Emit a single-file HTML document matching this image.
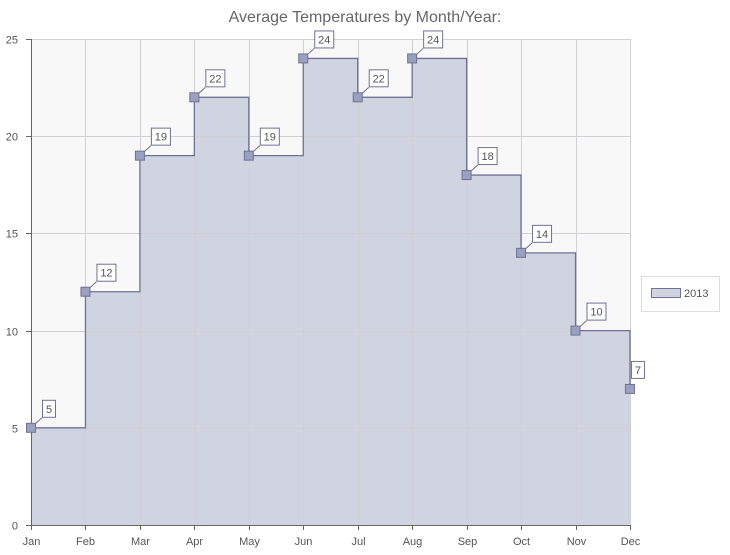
<!DOCTYPE html>
<html><head><meta charset="utf-8"><style>
html,body{margin:0;padding:0;background:#fff;width:730px;height:555px;overflow:hidden}
svg text{font-family:"Liberation Sans",sans-serif}
</style></head><body>
<svg id="s" width="730" height="555" xmlns="http://www.w3.org/2000/svg">
<rect x="31" y="39" width="599" height="486" fill="#f8f8f8"/>
<text x="365" y="22" text-anchor="middle" font-size="16" fill="#666">Average Temperatures by Month/Year:</text>
<rect x="641.5" y="276.5" width="78" height="35" fill="#fff" stroke="#ddd"/>
<rect x="651.5" y="288.5" width="29" height="9" fill="#d0d3e0" stroke="#6e7294"/>
<text x="684" y="297" font-size="11" fill="#555">2013</text>
</svg>
<script>
var s=document.getElementById('s'),ns='http://www.w3.org/2000/svg';
function el(t,a,txt){var e=document.createElementNS(ns,t);for(var k in a)e.setAttribute(k,a[k]);if(txt!=null)e.textContent=txt;s.appendChild(e);return e;}
var v=[5,12,19,22,19,24,22,24,18,14,10,7],m=['Jan','Feb','Mar','Apr','May','Jun','Jul','Aug','Sep','Oct','Nov','Dec'];
function X(i){return 31+54.45*i}function Y(t){return 525-19.44*t}
var d='M31,525',ln='';
for(var i=0;i<11;i++){d+=' L'+X(i)+','+Y(v[i])+' L'+X(i+1)+','+Y(v[i]);ln+=(i?' L':'M')+X(i)+','+Y(v[i])+' L'+X(i+1)+','+Y(v[i]);}
d+=' L630,'+Y(7)+' L630,525 Z';ln+=' L630,'+Y(7);
el('path',{d:d,fill:'#d0d3e0'});
for(var t=0;t<=25;t+=5){var y=Math.round(Y(t))+.5;el('line',{x1:31,x2:630,y1:y,y2:y,stroke:'#d0d0d4','stroke-width':1});el('line',{x1:26,x2:31,y1:y,y2:y,stroke:'#666'});el('text',{x:18,y:y+4,'font-size':11,fill:'#555','text-anchor':'end'},t);}
for(var i=0;i<12;i++){var x=Math.round(X(i))+.5;if(i>0)el('line',{x1:x,x2:x,y1:39,y2:525,stroke:'#d0d0d4'});el('line',{x1:x,x2:x,y1:525,y2:530,stroke:'#666'});el('text',{x:x,y:545,'font-size':11,fill:'#555','text-anchor':'middle'},m[i]);}
el('line',{x1:31.5,x2:31.5,y1:39,y2:525,stroke:'#666'});
el('line',{x1:31,x2:630,y1:525.5,y2:525.5,stroke:'#666'});
el('path',{d:ln,fill:'none',stroke:'#6e7294','stroke-width':1.3});
for(var i=0;i<12;i++){var x=X(i),y=Y(v[i]),w=v[i]>=10?19:13,ox=(i==11)?1:11;
if(i<11)el('line',{x1:x,y1:y,x2:x+11,y2:y-10,stroke:'#6e7294'});
el('rect',{x:x+ox+.5,y:y-27.5,width:w,height:17,fill:'#fff',stroke:'#6e7294'});
el('text',{x:x+ox+.5+w/2,y:y-15,'font-size':11,fill:'#555','text-anchor':'middle'},v[i]);
el('rect',{x:x-4.5,y:y-4.5,width:9,height:9,fill:'#9aa0c0',stroke:'#6e7294'});}
</script>
</body></html>
